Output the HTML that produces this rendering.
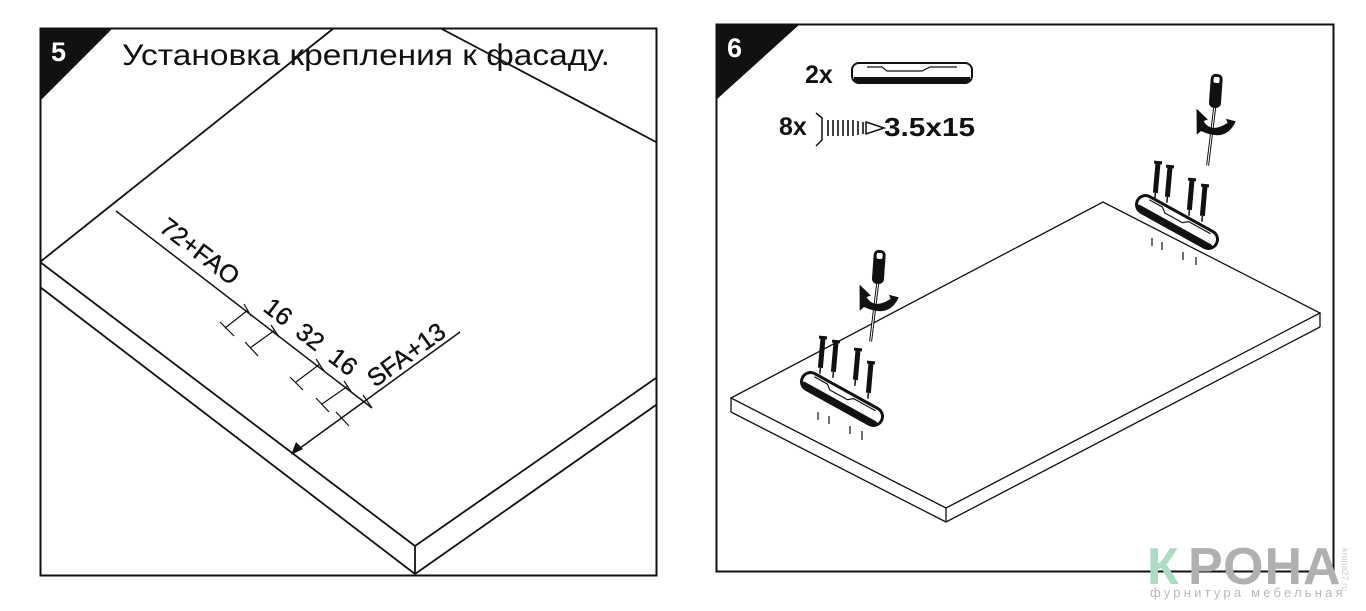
<!DOCTYPE html>
<html><head><meta charset="utf-8"><style>
html,body{margin:0;padding:0;background:#fff;width:1366px;height:611px;overflow:hidden}
svg{display:block}
</style></head><body>
<svg width="1366" height="611" viewBox="0 0 1366 611" xmlns="http://www.w3.org/2000/svg" font-family="Liberation Sans, DejaVu Sans, sans-serif">
<defs>
<g id="scr"><rect x="-2.5" y="0" width="5" height="30" fill="#111"/><rect x="-4" y="-2" width="8" height="3" fill="#111"/><line x1="0" y1="30" x2="0" y2="36" stroke="#111" stroke-width="1.5"/></g>
<g id="drv">
<rect x="-6" y="0" width="12" height="34" rx="5" fill="#111"/>
<rect x="-3" y="3" width="6" height="6" rx="2" fill="#fff"/>
<line x1="0" y1="34" x2="-3" y2="92" stroke="#111" stroke-width="3"/>
<line x1="0" y1="34" x2="-3" y2="92" stroke="#fff" stroke-width="1"/>
<path d="M-18 36 L-6 46 L-10 48 Q-2 60 14 48 L12 44 L22 46 Q14 68 -12 58 L-16 62 Z" fill="#111"/>
</g>
<g id="brk">
<rect x="-45" y="-9" width="90" height="18" rx="9" fill="#fff" stroke="#111" stroke-width="3"/>
<rect x="-43" y="3" width="86" height="5" rx="2.5" fill="#111"/>
<path d="M-35 -6 L-20 -6 L-15 -2 L5 -2 L10 -6 L35 -6" fill="none" stroke="#111" stroke-width="1.2"/>
</g>
</defs>
<!-- Panel 5 -->
<rect x="40.5" y="28.5" width="616" height="547" fill="none" stroke="#111" stroke-width="2"/>
<polygon points="40,28 113,28 40,101" fill="#111"/>
<text x="51" y="61" font-size="27" font-weight="bold" fill="#fff">5</text>
<text x="122" y="65" font-size="30" fill="#111" textLength="488" lengthAdjust="spacingAndGlyphs">Установка крепления к фасаду.</text>
<g stroke="#111" stroke-width="1.8" fill="none">
<line x1="40" y1="262" x2="334" y2="28"/>
<line x1="440" y1="28" x2="656" y2="142"/>
<line x1="40" y1="262" x2="415" y2="546"/>
<line x1="40" y1="287" x2="415" y2="574"/>
<line x1="415" y1="546" x2="415" y2="574"/>
<line x1="415" y1="546" x2="656" y2="378"/>
<line x1="415" y1="574" x2="656" y2="405"/>
<line x1="116" y1="211" x2="372" y2="408" stroke-width="1.5"/>
<line x1="460" y1="332" x2="296" y2="451" stroke-width="1.5"/>
</g>
<polygon points="291,455 296,442 303,449" fill="#111"/>
<g stroke="#111" stroke-width="1.2">
<line x1="248" y1="310" x2="225" y2="328"/><line x1="220" y1="322" x2="234" y2="336"/>
<line x1="275" y1="330" x2="250" y2="348"/><line x1="245" y1="342" x2="258" y2="356"/>
<line x1="320" y1="364" x2="296" y2="382"/><line x1="290" y1="377" x2="303" y2="390"/>
<line x1="348" y1="386" x2="322" y2="404"/><line x1="316" y1="398" x2="329" y2="412"/>
<line x1="336" y1="412" x2="349" y2="426"/>
<line x1="244" y1="304" x2="251" y2="316"/><line x1="271" y1="325" x2="279" y2="337"/>
<line x1="316" y1="359" x2="324" y2="371"/><line x1="344" y1="381" x2="352" y2="393"/>
<line x1="363" y1="395" x2="372" y2="408"/>
</g>
<g font-size="25" fill="#111" stroke="#111" stroke-width="0.4">
<text transform="translate(158,230) rotate(37.5)">72+FAO</text>
<text transform="translate(262,310) rotate(37.5)">16</text>
<text transform="translate(294,335) rotate(37.5)">32</text>
<text transform="translate(327,360) rotate(37.5)">16</text>
<text transform="translate(375,388) rotate(-36)">SFA+13</text>
</g>
<!-- Panel 6 -->
<rect x="716.5" y="24.5" width="617" height="547" fill="none" stroke="#111" stroke-width="2"/>
<polygon points="716,24 800,24 716,100" fill="#111"/>
<text x="727" y="57" font-size="27" font-weight="bold" fill="#fff">6</text>
<text x="805" y="83" font-size="25" font-weight="bold" fill="#111">2x</text>
<g transform="translate(912,73)"><rect x="-60" y="-10" width="120" height="20" rx="7" fill="#fff" stroke="#111" stroke-width="2"/><rect x="-58" y="4" width="116" height="5" fill="#111"/><path d="M-45 -6 L-30 -6 L-25 -2 L10 -2 L18 -6 L45 -6" fill="none" stroke="#111" stroke-width="1.2"/></g>
<text x="779" y="135" font-size="25" font-weight="bold" fill="#111">8x</text>
<g stroke="#111" stroke-width="1.5" fill="none">
<path d="M816 113 L822 118 L822 140 L816 146"/>
</g>
<g stroke="#111" stroke-width="1.6">
<line x1="828" y1="120" x2="828" y2="136"/><line x1="833" y1="120" x2="833" y2="136"/><line x1="838" y1="120" x2="838" y2="136"/><line x1="843" y1="120" x2="843" y2="136"/><line x1="848" y1="120" x2="848" y2="136"/><line x1="853" y1="120" x2="853" y2="136"/><line x1="858" y1="121" x2="858" y2="135"/><line x1="863" y1="122" x2="863" y2="134"/>
</g>
<path d="M866 122 L884 128 L866 134 Z" fill="none" stroke="#111" stroke-width="1.5"/>
<text x="884" y="136" font-size="26" font-weight="bold" fill="#111" textLength="91" lengthAdjust="spacingAndGlyphs">3.5x15</text>
<g stroke="#111" stroke-width="1.3" fill="none">
<polygon points="731,398 1103,202 1320,313 946,508"/>
<line x1="731" y1="398" x2="731" y2="412"/>
<line x1="731" y1="412" x2="946" y2="522"/>
<line x1="946" y1="508" x2="946" y2="522"/>
<line x1="946" y1="522" x2="1320" y2="327"/>
<line x1="1320" y1="313" x2="1320" y2="327"/>
</g>
<g transform="translate(842,399) rotate(29)"><use href="#brk"/></g>
<g transform="translate(1177,222) rotate(29)"><use href="#brk"/></g>
<g transform="translate(823,338) rotate(5)"><use href="#scr"/></g>
<g transform="translate(836,342) rotate(5)"><use href="#scr"/></g>
<g transform="translate(858,350) rotate(5)"><use href="#scr"/></g>
<g transform="translate(871,363) rotate(5)"><use href="#scr"/></g>
<g transform="translate(1158,163) rotate(5)"><use href="#scr"/></g>
<g transform="translate(1170,167) rotate(5)"><use href="#scr"/></g>
<g transform="translate(1192,180) rotate(5)"><use href="#scr"/></g>
<g transform="translate(1205,186) rotate(5)"><use href="#scr"/></g>
<g stroke="#111" stroke-width="1.2">
<line x1="818" y1="412" x2="818" y2="420"/><line x1="829" y1="416" x2="829" y2="424"/><line x1="850" y1="426" x2="850" y2="434"/><line x1="862" y1="431" x2="862" y2="440"/>
<line x1="1152" y1="238" x2="1152" y2="246"/><line x1="1162" y1="242" x2="1162" y2="250"/><line x1="1183" y1="252" x2="1183" y2="260"/><line x1="1196" y1="257" x2="1196" y2="265"/>
</g>
<g transform="translate(880,250) rotate(4)"><use href="#drv"/></g>
<g transform="translate(1217,74) rotate(4)"><use href="#drv"/></g>
<!-- logo -->
<text x="1147" y="584" font-size="52" font-weight="bold" fill="#a9dcc3">К</text>
<text x="1188" y="584" font-size="52" font-weight="bold" fill="#b0b0b0" letter-spacing="1">РОНА</text>
<text x="1150" y="597" font-size="13" fill="#b8b8b8" letter-spacing="3.2">фурнитура мебельная</text>
<text transform="translate(1342,548) rotate(90)" font-size="9" fill="#ccc">krona27.ru</text>
</svg>
</body></html>
